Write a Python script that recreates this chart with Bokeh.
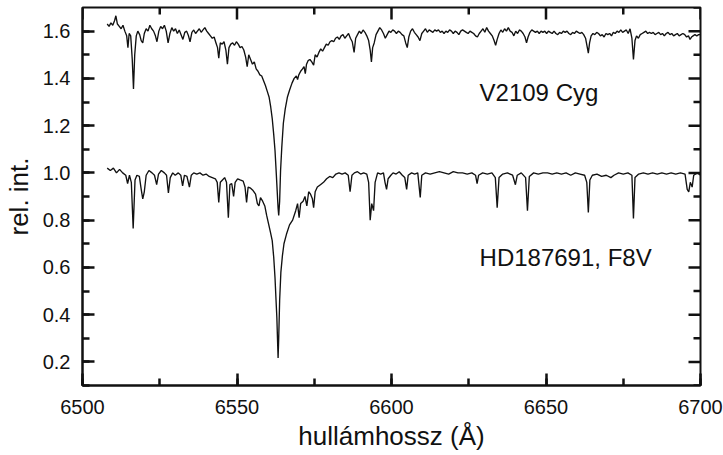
from bokeh.plotting import figure
from bokeh.models import Range1d, SingleIntervalTicker, NumeralTickFormatter, Label, ColumnDataSource
from bokeh.embed import file_html
from bokeh.resources import INLINE

# ---------------- data ----------------
x_major_ticks = [6500, 6550, 6600, 6650, 6700]
x_minor_ticks = [6525, 6575, 6625, 6675]
y_major_ticks = [0.2, 0.4, 0.6, 0.8, 1.0, 1.2, 1.4, 1.6]
y_minor_ticks = [0.1, 0.3, 0.5, 0.7, 0.9, 1.1, 1.3, 1.5, 1.7]
star_names = ["V2109 Cyg", "HD187691, F8V"]

v2109_wl = [
    6508.0, 6508.6, 6509.2, 6509.8, 6510.4, 6510.8, 6511.3, 6511.9, 6512.5, 6513.1,
    6513.7, 6514.3, 6514.7, 6515.1, 6515.6, 6516.1, 6516.5, 6516.9, 6517.4, 6517.9,
    6518.5, 6519.0, 6519.5, 6520.0, 6520.6, 6521.2, 6521.8, 6522.4, 6523.0, 6523.6,
    6524.1, 6524.7, 6525.3, 6525.9, 6526.5, 6527.1, 6527.7, 6528.3, 6528.9, 6529.5,
    6530.1, 6530.7, 6531.3, 6531.9, 6532.5, 6533.1, 6533.7, 6534.3, 6534.8, 6535.4,
    6536.0, 6536.6, 6537.2, 6537.8, 6538.4, 6539.0, 6539.6, 6540.2, 6540.8, 6541.4,
    6542.0, 6542.6, 6543.2, 6543.7, 6544.1, 6544.6, 6545.2, 6545.8, 6546.4, 6546.9,
    6547.4, 6548.0, 6548.6, 6549.2, 6549.8, 6550.4, 6551.0, 6551.6, 6552.2, 6552.8,
    6553.3, 6553.8, 6554.4, 6555.0, 6555.6, 6556.2, 6556.8, 6557.4, 6558.0, 6558.6,
    6559.2, 6559.8, 6560.4, 6560.9, 6561.4, 6561.9, 6562.3, 6562.7, 6563.0, 6563.3,
    6563.5, 6563.8, 6564.1, 6564.5, 6565.0, 6565.6, 6566.3, 6567.0, 6567.8, 6568.5,
    6569.2, 6569.6, 6570.0, 6570.6, 6571.2, 6571.7, 6572.1, 6572.5, 6573.0, 6573.6,
    6574.2, 6574.8, 6575.3, 6575.9, 6576.5, 6577.1, 6577.7, 6578.3, 6578.9, 6579.5,
    6580.1, 6580.7, 6581.3, 6581.9, 6582.5, 6583.1, 6583.7, 6584.3, 6584.9, 6585.5,
    6586.1, 6586.7, 6587.3, 6587.9, 6588.4, 6589.0, 6589.6, 6590.2, 6590.8, 6591.4,
    6592.0, 6592.6, 6593.1, 6593.5, 6593.9, 6594.4, 6595.0, 6595.6, 6596.2, 6596.8,
    6597.4, 6598.0, 6598.6, 6599.2, 6599.8, 6600.4, 6601.0, 6601.6, 6602.2, 6602.8,
    6603.4, 6604.0, 6604.6, 6605.1, 6605.6, 6606.2, 6606.8, 6607.4, 6608.0, 6608.6,
    6609.2, 6609.8, 6610.4, 6611.0, 6611.6, 6612.2, 6612.8, 6613.4, 6614.0, 6614.6,
    6615.2, 6615.8, 6616.4, 6617.0, 6617.6, 6618.2, 6618.8, 6619.4, 6620.0, 6620.6,
    6621.2, 6621.8, 6622.4, 6623.0, 6623.6, 6624.2, 6624.8, 6625.4, 6626.0, 6626.6,
    6627.2, 6627.8, 6628.4, 6629.0, 6629.6, 6630.2, 6630.8, 6631.4, 6632.0, 6632.6,
    6633.2, 6633.7, 6634.2, 6634.8, 6635.4, 6636.0, 6636.6, 6637.2, 6637.8, 6638.4,
    6639.0, 6639.6, 6640.2, 6640.8, 6641.4, 6642.0, 6642.6, 6643.2, 6643.7, 6644.2,
    6644.8, 6645.4, 6646.0, 6646.6, 6647.2, 6647.8, 6648.4, 6649.0, 6649.6, 6650.2,
    6650.8, 6651.4, 6652.0, 6652.6, 6653.2, 6653.8, 6654.4, 6655.0, 6655.6, 6656.2,
    6656.8, 6657.4, 6658.0, 6658.6, 6659.2, 6659.8, 6660.4, 6661.0, 6661.6, 6662.2,
    6662.8, 6663.3, 6663.7, 6664.1, 6664.6, 6665.2, 6665.8, 6666.4, 6667.0, 6667.6,
    6668.2, 6668.8, 6669.4, 6670.0, 6670.6, 6671.2, 6671.8, 6672.4, 6673.0, 6673.6,
    6674.2, 6674.8, 6675.4, 6676.0, 6676.6, 6677.2, 6677.8, 6678.3, 6678.8, 6679.3,
    6679.9, 6680.5, 6681.1, 6681.7, 6682.3, 6682.9, 6683.5, 6684.1, 6684.7, 6685.3,
    6685.9, 6686.5, 6687.1, 6687.7, 6688.3, 6688.9, 6689.5, 6690.1, 6690.7, 6691.3,
    6691.9, 6692.5, 6693.1, 6693.7, 6694.3, 6694.9, 6695.5, 6696.1, 6696.6, 6697.1,
    6697.6, 6698.2, 6698.8, 6699.4, 6700.0,
]
v2109_flux = [
    1.63, 1.62, 1.635, 1.625, 1.645, 1.665, 1.63, 1.62, 1.61, 1.625,
    1.60, 1.58, 1.53, 1.59, 1.58, 1.48, 1.355, 1.50, 1.58, 1.60,
    1.585, 1.56, 1.55, 1.59, 1.61, 1.60, 1.625, 1.61, 1.60, 1.58,
    1.555, 1.60, 1.62, 1.61, 1.625, 1.60, 1.55, 1.59, 1.615, 1.60,
    1.61, 1.59, 1.605, 1.585, 1.565, 1.595, 1.60, 1.58, 1.555, 1.595,
    1.605, 1.59, 1.60, 1.61, 1.595, 1.605, 1.615, 1.60, 1.59, 1.58,
    1.57, 1.575, 1.55, 1.53, 1.485, 1.55, 1.545, 1.555, 1.52, 1.46,
    1.53, 1.545, 1.55, 1.54, 1.555, 1.545, 1.53, 1.535, 1.52, 1.49,
    1.45, 1.50, 1.48, 1.46, 1.47, 1.44, 1.43, 1.415, 1.41, 1.39,
    1.37, 1.345, 1.32, 1.28, 1.23, 1.16, 1.095, 1.00, 0.925, 0.85,
    0.82, 0.88, 1.01, 1.11, 1.21, 1.27, 1.32, 1.35, 1.38, 1.40,
    1.41, 1.395, 1.415, 1.43, 1.44, 1.45, 1.42, 1.46, 1.475, 1.48,
    1.47, 1.456, 1.50, 1.49, 1.51, 1.525, 1.515, 1.53, 1.545, 1.54,
    1.555, 1.56, 1.555, 1.57, 1.575, 1.565, 1.58, 1.585, 1.57, 1.58,
    1.59, 1.57, 1.555, 1.51, 1.57, 1.585, 1.60, 1.59, 1.605, 1.595,
    1.58, 1.56, 1.52, 1.47, 1.53, 1.55, 1.585, 1.60, 1.615, 1.605,
    1.59, 1.57, 1.585, 1.60, 1.595, 1.605, 1.60, 1.59, 1.60, 1.595,
    1.585, 1.58, 1.55, 1.53, 1.575, 1.60, 1.61, 1.595, 1.585, 1.575,
    1.56, 1.59, 1.60, 1.61, 1.595, 1.605, 1.60, 1.595, 1.605, 1.60,
    1.605, 1.595, 1.60, 1.59, 1.60, 1.595, 1.605, 1.60, 1.59, 1.60,
    1.595, 1.585, 1.60, 1.605, 1.60, 1.595, 1.59, 1.60, 1.595, 1.59,
    1.58, 1.575, 1.59, 1.60, 1.61, 1.595, 1.615, 1.60, 1.59, 1.58,
    1.56, 1.54, 1.565, 1.59, 1.605, 1.595, 1.61, 1.60, 1.615, 1.60,
    1.595, 1.58, 1.60, 1.59, 1.605, 1.60, 1.59, 1.575, 1.55, 1.575,
    1.595, 1.605, 1.60, 1.595, 1.60, 1.59, 1.60, 1.595, 1.60, 1.59,
    1.60, 1.595, 1.59, 1.60, 1.59, 1.585, 1.595, 1.59, 1.60, 1.595,
    1.60, 1.59, 1.585, 1.595, 1.59, 1.60, 1.595, 1.59, 1.595, 1.585,
    1.57, 1.535, 1.507, 1.55, 1.58, 1.59, 1.585, 1.595, 1.59, 1.58,
    1.585, 1.575, 1.59, 1.585, 1.59, 1.58, 1.595, 1.59, 1.60, 1.595,
    1.605, 1.595, 1.60, 1.605, 1.59, 1.61, 1.57, 1.48, 1.56, 1.58,
    1.57, 1.585, 1.59, 1.595, 1.60, 1.59, 1.595, 1.59, 1.595, 1.585,
    1.59, 1.595, 1.585, 1.59, 1.58, 1.59, 1.595, 1.585, 1.59, 1.58,
    1.585, 1.59, 1.58, 1.585, 1.59, 1.585, 1.575, 1.58, 1.565, 1.575,
    1.58, 1.585, 1.58, 1.585, 1.585,
]

hd_wl = [
    6508.0, 6509.0, 6510.0, 6511.0, 6512.0, 6513.0, 6514.0, 6514.6, 6515.2, 6515.8,
    6516.4, 6517.0, 6517.6, 6518.4, 6519.0, 6519.5, 6520.0, 6520.6, 6521.5, 6522.5,
    6523.3, 6524.0, 6524.6, 6525.5, 6526.5, 6527.2, 6527.8, 6528.4, 6529.2, 6530.0,
    6531.0, 6531.8, 6532.4, 6533.0, 6533.8, 6534.6, 6535.2, 6536.0, 6537.0, 6538.0,
    6539.0, 6540.0, 6541.0, 6542.0, 6543.0, 6543.6, 6544.1, 6544.6, 6545.3, 6546.0,
    6546.6, 6547.2, 6547.7, 6548.3, 6548.9, 6549.4, 6550.2, 6551.0, 6552.0, 6552.6,
    6553.1, 6553.6, 6554.4, 6555.2, 6556.0, 6556.6, 6557.1, 6557.6, 6558.3, 6559.0,
    6559.6, 6560.2, 6560.8, 6561.4, 6561.9, 6562.3, 6562.6, 6562.9, 6563.1, 6563.3,
    6563.5, 6563.8, 6564.2, 6564.7, 6565.2, 6566.0, 6567.0, 6568.0, 6569.0, 6569.6,
    6570.1, 6570.6, 6571.4, 6572.0, 6572.6, 6573.2, 6573.8, 6574.4, 6574.8, 6575.3,
    6576.0, 6577.0, 6578.0, 6579.0, 6580.0, 6581.0, 6582.0, 6583.0, 6584.0, 6585.0,
    6586.0, 6586.6, 6587.2, 6588.0, 6589.0, 6590.0, 6591.0, 6592.0, 6592.6, 6593.1,
    6593.6, 6594.2, 6594.7, 6595.5, 6596.5, 6597.4, 6597.9, 6598.4, 6598.9, 6599.8,
    6600.5, 6601.5, 6602.5, 6603.5, 6604.3, 6604.9, 6605.4, 6606.5, 6607.5, 6608.5,
    6609.3, 6609.8, 6611.0, 6612.5, 6614.0, 6615.5, 6617.0, 6618.5, 6620.0, 6621.5,
    6623.0, 6624.5, 6626.0, 6627.2, 6627.7, 6628.2, 6629.5, 6631.0, 6632.5, 6633.6,
    6634.2, 6634.8, 6636.0, 6637.5, 6639.2, 6640.1, 6640.7, 6642.0, 6643.4, 6644.0,
    6644.6, 6646.0, 6647.5, 6649.0, 6650.5, 6652.0, 6653.5, 6655.0, 6656.5, 6658.0,
    6659.5, 6661.0, 6662.5, 6663.2, 6663.7, 6664.2, 6665.0, 6666.5, 6668.0, 6669.5,
    6671.0, 6672.0, 6673.5, 6675.0, 6676.5, 6677.8, 6678.3, 6678.8, 6680.0, 6681.5,
    6683.0, 6684.5, 6686.0, 6687.5, 6689.0, 6690.5, 6692.0, 6693.5, 6695.0, 6695.7,
    6696.2, 6696.7, 6697.3, 6697.8, 6699.0, 6700.0,
]
hd_flux = [
    1.02, 1.01, 1.02, 1.00, 1.015, 1.00, 0.99, 0.955, 0.99, 0.96,
    0.765, 0.97, 0.99, 0.985, 0.93, 0.89, 0.92, 0.99, 1.01, 1.00,
    0.99, 0.95, 0.995, 1.01, 1.00, 0.99, 0.915, 0.98, 1.00, 0.99,
    1.00, 0.99, 0.945, 0.99, 0.985, 0.94, 0.99, 1.00, 0.995, 1.00,
    0.99, 0.995, 0.985, 0.98, 0.975, 0.96, 0.875, 0.96, 0.97, 0.98,
    0.96, 0.81, 0.95, 0.955, 0.90, 0.96, 0.975, 0.97, 0.965, 0.94,
    0.875, 0.94, 0.935, 0.925, 0.91, 0.87, 0.86, 0.895, 0.88, 0.86,
    0.82, 0.785, 0.75, 0.713, 0.64, 0.556, 0.47, 0.387, 0.30, 0.217,
    0.30, 0.46, 0.58, 0.65, 0.70, 0.74, 0.78, 0.80, 0.84, 0.87,
    0.81, 0.87, 0.88, 0.90, 0.86, 0.92, 0.91, 0.89, 0.853, 0.92,
    0.94, 0.95, 0.96, 0.975, 0.985, 0.98, 0.995, 1.00, 0.995, 1.00,
    0.99, 0.92, 0.99, 1.00, 1.005, 0.995, 1.00, 0.995, 0.96, 0.80,
    0.87, 0.84, 0.96, 1.00, 0.995, 1.00, 0.96, 0.93, 0.975, 0.99,
    1.00, 0.995, 1.005, 0.99, 0.98, 0.93, 0.99, 1.00, 0.995, 1.00,
    0.896, 0.99, 1.00, 0.995, 1.00, 1.005, 1.00, 0.995, 1.005, 1.00,
    1.00, 0.995, 1.00, 0.99, 0.955, 0.99, 1.00, 0.995, 1.00, 0.98,
    0.853, 0.98, 0.995, 1.00, 0.99, 0.95, 0.99, 1.00, 0.98, 0.84,
    0.985, 1.00, 0.995, 1.00, 1.00, 0.995, 1.00, 0.995, 1.00, 0.99,
    1.00, 0.995, 0.99, 0.96, 0.832, 0.97, 0.99, 0.995, 0.985, 0.99,
    0.98, 0.99, 1.00, 0.995, 1.00, 0.99, 0.807, 0.98, 0.995, 1.00,
    0.995, 1.00, 0.995, 1.00, 0.995, 1.00, 0.995, 1.00, 0.995, 0.93,
    0.92, 0.96, 0.94, 0.99, 1.00, 0.99,
]

# ---------------- styling ----------------
FONT = "Liberation Sans"
INK = "#111111"
X0, X1 = 6500, 6700
Y0, Y1 = 0.1, 1.7
FW, FH = 618, 378          # frame size in pixels

p = figure(
    frame_width=FW, frame_height=FH,
    x_range=Range1d(X0, X1), y_range=Range1d(Y0, Y1),
    output_backend="svg", toolbar_location=None,
    min_border_left=82, min_border_right=23, min_border_top=7, min_border_bottom=70,
)
p.grid.visible = False
p.outline_line_color = INK
p.outline_line_width = 2

p.line(x="x", y="y", source=ColumnDataSource(dict(x=v2109_wl, y=v2109_flux)),
       line_color=INK, line_width=1.35)
p.line(x="x", y="y", source=ColumnDataSource(dict(x=hd_wl, y=hd_flux)),
       line_color=INK, line_width=1.35)

# inward ticks on the top and right edges, lengths in pixels converted to data units
dx = (X1 - X0) / FW
dy = (Y1 - Y0) / FH
TW = 2.5


def top_ticks(xs, length):
    n = len(xs)
    p.segment(x0=xs, y0=[Y1] * n, x1=xs, y1=[Y1 - length * dy] * n, line_color=INK, line_width=TW)


def right_ticks(ys, length):
    n = len(ys)
    p.segment(x0=[X1] * n, y0=ys, x1=[X1 - length * dx] * n, y1=ys, line_color=INK, line_width=TW)


top_ticks(x_major_ticks, 12)
top_ticks(x_minor_ticks, 7)
right_ticks(y_major_ticks, 12)
right_ticks(y_minor_ticks, 7)


def style_axis(ax):
    ax.axis_line_color = INK
    ax.axis_line_width = 2
    ax.major_tick_line_color = INK
    ax.minor_tick_line_color = INK
    ax.major_tick_line_width = TW
    ax.minor_tick_line_width = TW
    ax.major_tick_in = 12
    ax.major_tick_out = 0
    ax.minor_tick_in = 7
    ax.minor_tick_out = 0
    ax.major_label_text_font = FONT
    ax.major_label_text_font_size = "20px"
    ax.major_label_text_color = INK
    ax.axis_label_text_font = FONT
    ax.axis_label_text_font_size = "26px"
    ax.axis_label_text_font_style = "normal"
    ax.axis_label_text_color = INK


xa = p.xaxis[0]
xa.ticker = SingleIntervalTicker(interval=50, num_minor_ticks=2)
style_axis(xa)
xa.major_label_standoff = 14
xa.axis_label = "hullámhossz (Å)"
xa.axis_label_standoff = 4

ya = p.yaxis[0]
ya.ticker = SingleIntervalTicker(interval=0.2, num_minor_ticks=2)
ya.formatter = NumeralTickFormatter(format="0.0")
style_axis(ya)
ya.major_label_standoff = 12
ya.axis_label = "rel. int."
ya.axis_label_standoff = 6

# star labels
p.add_layout(Label(x=6628.5, y=1.341, text=star_names[0], text_font=FONT,
                   text_font_size="24px", text_color=INK, text_baseline="alphabetic"))
p.add_layout(Label(x=6628.5, y=0.641, text=star_names[1], text_font=FONT,
                   text_font_size="24px", text_color=INK, text_baseline="alphabetic"))

open("out.html", "w").write(file_html(p, INLINE))
